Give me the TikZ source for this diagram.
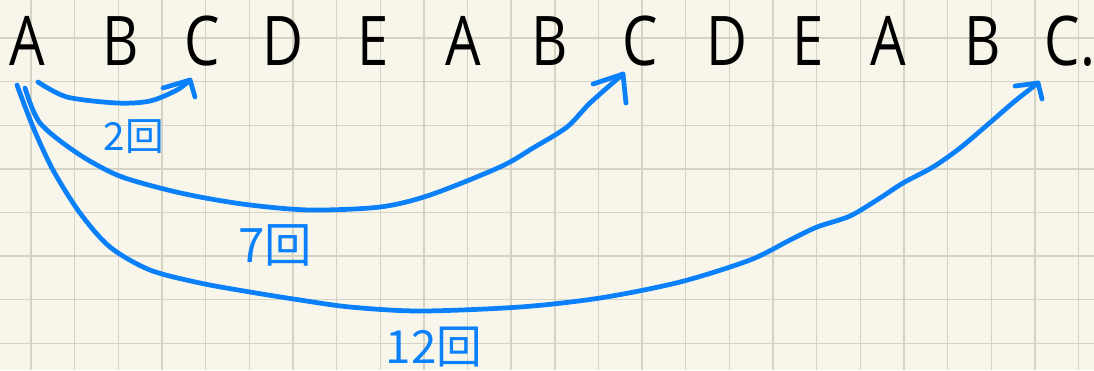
\documentclass[tikz,border=0pt]{standalone}
\usepackage{fontspec}
\setmainfont{Open Sans}
\newfontfamily\cjk{Noto Sans CJK JP}
\definecolor{paper}{RGB}{248,246,234}
\definecolor{gridc}{RGB}{214,210,196}
\definecolor{pen}{RGB}{10,128,250}
\begin{document}
\begin{tikzpicture}[x=0.02cm,y=-0.02cm,
  letter/.style={anchor=base,inner sep=0pt,xscale=0.82,font=\fontsize{39}{40}\selectfont},
  stroke/.style={draw=pen,line width=2.7pt,line cap=round,line join=round},
  count/.style={text=pen,inner sep=0pt,font=\cjk\fontsize{#1}{#1}\selectfont}]
\fill[paper] (0,0) rectangle (1094,370);
\useasboundingbox (0,0) rectangle (1094,370);
% grid paper
\foreach \i in {0,...,24} \draw[gridc,line width=0.8pt] (31+43.65*\i,0) -- (31+43.65*\i,370);
\foreach \j in {0,...,7} \draw[gridc,line width=0.8pt] (0,38+43.6*\j) -- (1094,38+43.6*\j);
% letters
\foreach \x/\l/\n in {27/A/a1,121/B/b1,202/C/c1,283/D/d1,373/E/e1,463/A/a2,550/B/b2,640/C/c2,727/D/d2,808/E/e2,888/A/a3,983/B/b3,1070/C./c3}
  \node[letter] (\n) at (\x,65) {\l};
% arrow ends
\coordinate (s1) at (38,82);  \coordinate (t1) at (190,80);
\coordinate (s2) at (25,88);  \coordinate (t2) at (623,74);
\coordinate (s3) at (17,85);  \coordinate (t3) at (1038,83);
% A -> C, 2 steps
\draw[stroke] plot[smooth] coordinates {(s1) (67,97) (117,103) (150,101) (177,90) (t1)};
\draw[stroke] (t1) ++(-27,8) -- (t1) -- ++(5,17);
\node[count=22] (n2) at (134,137) {2回};
% A -> C, 7 steps
\draw[stroke] plot[smooth] coordinates {(s2) (40,123) (77,153) (117,175) (160,188) (200,197) (250,205) (310,210) (380,207) (430,195) (500,167) (533,148) (567,127) (590,103) (t2)};
\draw[stroke] (t2) ++(-30,10) -- (t2) -- ++(3,29);
\node[count=27] (n7) at (275,245) {7回};
% A -> C, 12 steps
\draw[stroke] plot[smooth] coordinates {(s3) (33,127) (53,170) (80,213) (110,247) (150,270) (200,283) (250,292) (300,300) (350,307) (420,311) (520,307) (600,298) (680,282) (750,260) (790,240) (817,227) (850,216) (880,198) (903,183) (933,167) (960,148) (993,120) (1015,101) (t3)};
\draw[stroke] (t3) ++(-23,3) -- (t3) -- ++(4,16);
\node[count=26] (n12) at (434,347) {12回};
\end{tikzpicture}
\end{document}
